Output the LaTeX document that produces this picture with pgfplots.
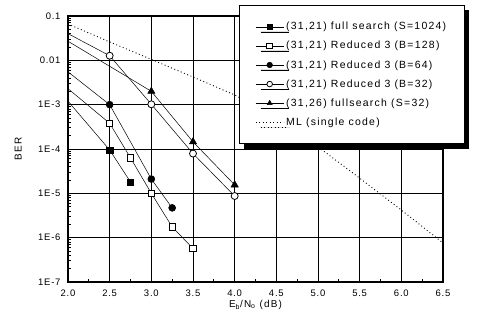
\documentclass[border=0pt]{standalone}
\usepackage{pgfplots}
\pgfplotsset{compat=1.18}
\usepackage{fontspec}
\setmainfont{Liberation Sans}
\newfontfamily\spaced{Liberation Sans}[LetterSpace=12]
\newfontfamily\tickf{Liberation Sans}[LetterSpace=8]
\usetikzlibrary{shadows}

\begin{document}
\begin{tikzpicture}
\begin{axis}[
  scale only axis, width=375bp, height=266bp,
  anchor=south west, at={(0,0)},
  ymode=log, xmin=2, xmax=6.5, ymin=1e-7, ymax=0.1,
  xtick={2,2.5,3,3.5,4,4.5,5,5.5,6,6.5},
  xticklabels={2.0,2.5,3.0,3.5,4.0,4.5,5.0,5.5,6.0,6.5},
  minor xtick={2.25,2.75,3.25,3.75,4.25,4.75,5.25,5.75,6.25},
  ytick={1e-7,1e-6,1e-5,1e-4,1e-3,1e-2,1e-1},
  yticklabels={1E-7,1E-6,1E-5,1E-4,1E-3,0.01,0.1},
  minor ytick={2e-7,3e-7,4e-7,5e-7,6e-7,7e-7,8e-7,9e-7,
               2e-6,3e-6,4e-6,5e-6,6e-6,7e-6,8e-6,9e-6,
               2e-5,3e-5,4e-5,5e-5,6e-5,7e-5,8e-5,9e-5,
               2e-4,3e-4,4e-4,5e-4,6e-4,7e-4,8e-4,9e-4,
               2e-3,3e-3,4e-3,5e-3,6e-3,7e-3,8e-3,9e-3,
               2e-2,3e-2,4e-2,5e-2,6e-2,7e-2,8e-2,9e-2},
  tick pos=left, tick align=inside,
  major tick length=0pt, minor tick length=3bp,
  every minor tick/.style={line width=0.8bp, black},
  grid=major, major grid style={black, line width=0.5bp},
  axis line style={line width=1.3bp},
  ticklabel style={font=\fontsize{9.5}{11}\selectfont\tickf},
  yticklabel style={xshift=-4bp},
  xticklabel style={yshift=-4bp},
  xlabel={E$_{\mathrm{b}}$/N$_{\mathrm{o}}$ (dB)},
  xlabel style={font=\fontsize{10}{12}\selectfont\spaced, at={(axis description cs:0.5,-0.086)}, anchor=center},
  ylabel={BER},
  ylabel style={font=\fontsize{10}{12}\selectfont\spaced, at={(axis description cs:-0.133,0.5)}, anchor=center},
  legend style={at={(axis description cs:0.456,1.041)}, anchor=north west,
    draw=black, line width=0.5bp, fill=white,
    drop shadow={shadow xshift=5bp, shadow yshift=-5bp, fill=black, opacity=1},
    font=\fontsize{10.5}{12}\selectfont\spaced,
    inner xsep=16bp, inner ysep=15bp, row sep=6bp},
  legend cell align=left,
  legend image code/.code={
    \draw[#1, mark=none] (0bp,0bp) -- (28bp,0bp);
    \draw[#1, only marks, mark size=2.8bp] plot coordinates {(14bp,0bp)};
  },
]
% extensions to the left edge
\addplot[black, line width=0.5bp, forget plot] coordinates {(2.0,1.2e-3) (2.5,9.5e-5)};
\addplot[black, line width=0.5bp, forget plot] coordinates {(2.0,2.3e-3) (2.5,3.8e-4)};
\addplot[black, line width=0.5bp, forget plot] coordinates {(2.0,5.5e-3) (2.5,1.0e-3)};
\addplot[black, line width=0.5bp, forget plot] coordinates {(2.0,0.040) (2.5,0.0127)};
\addplot[black, line width=0.5bp, forget plot] coordinates {(2.0,0.027) (3.0,2.0e-3)};

\addplot[black, line width=0.5bp, mark=square*, mark size=3.2bp, mark options={solid, fill=black}]
  coordinates {(2.5,9.5e-5) (2.75,1.8e-5)};
\addlegendentry{(31,21) full search (S=1024)}
\addplot[black, line width=0.5bp, mark=square*, mark size=3.2bp, mark options={solid, fill=white, line width=0.8bp}]
  coordinates {(2.5,3.8e-4) (2.75,6.3e-5) (3.0,1.0e-5) (3.25,1.75e-6) (3.5,5.7e-7)};
\addlegendentry{(31,21) Reduced 3 (B=128)}
\addplot[black, line width=0.5bp, mark=*, mark size=3.5bp, mark options={solid, fill=black}]
  coordinates {(2.5,1.0e-3) (3.0,2.1e-5) (3.25,4.7e-6)};
\addlegendentry{(31,21) Reduced 3 (B=64)}
\addplot[black, line width=0.5bp, mark=*, mark size=3.5bp, mark options={solid, fill=white, line width=0.8bp}]
  coordinates {(2.5,0.0127) (3.0,1.02e-3) (3.5,7.9e-5) (4.0,8.7e-6)};
\addlegendentry{(31,21) Reduced 3 (B=32)}
\addplot[black, line width=0.5bp, mark=triangle*, mark size=4.2bp, mark options={solid, fill=black}]
  coordinates {(3.0,2.0e-3) (3.5,1.45e-4) (4.0,1.55e-5)};
\addlegendentry{(31,26) fullsearch (S=32)}
\addplot[black, line width=0.9bp, dash pattern=on 0.9bp off 2.6bp, mark=none]
  coordinates {(2.0,0.066) (2.5,0.026) (3.0,0.0105) (3.5,4.2e-3) (4.0,1.66e-3)
               (4.5,5.0e-4) (5.0,1.12e-4) (5.5,2.2e-5) (6.0,4.2e-6) (6.5,7.6e-7)};
\addlegendentry{ML (single code)}
\end{axis}
\pgfresetboundingbox
\useasboundingbox (-68bp,-41bp) rectangle (419bp,282bp);
\end{tikzpicture}
\end{document}
